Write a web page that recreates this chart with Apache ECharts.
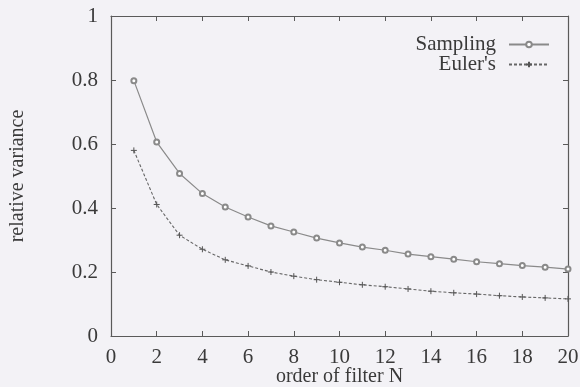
<!DOCTYPE html>
<html>
<head>
<meta charset="utf-8">
<script src="https://cdn.jsdelivr.net/npm/echarts@6/dist/echarts.min.js"></script>
<style>html,body{margin:0;padding:0;background:#f3f2f6;}#c{width:580px;height:387px;}</style>
</head>
<body>
<div id="c"></div>
<script>
const orderN = [1,2,3,4,5,6,7,8,9,10,11,12,13,14,15,16,17,18,19,20];
const sampling = [0.798,0.606,0.508,0.445,0.403,0.372,0.344,0.325,0.306,0.291,0.278,0.268,0.256,0.248,0.240,0.232,0.226,0.220,0.215,0.209];
const eulers = [0.580,0.411,0.315,0.271,0.238,0.219,0.200,0.187,0.176,0.168,0.160,0.154,0.147,0.140,0.135,0.131,0.126,0.122,0.119,0.116];
const xTicks = [0,2,4,6,8,10,12,14,16,18,20];
const yTicks = [0,0.2,0.4,0.6,0.8,1];
const seriesNames = ['Sampling', "Euler's"];

const font = 'Liberation Serif';
const textColor = '#3a3a3a';
const axisColor = '#5a5a5a';
const tickFmt = v => { const r = Math.round(v*10)/10; return String(r); };

function boxAxis(pos, show, extra) {
  return Object.assign({
    type: 'value', position: pos,
    axisLine: {show: true, onZero: false, lineStyle: {color: axisColor, width: 1.2}},
    axisTick: {show: true, inside: true, length: 5, lineStyle: {color: axisColor}},
    splitLine: {show: false},
    axisLabel: {show: show, fontFamily: font, fontSize: 21, color: textColor, formatter: tickFmt}
  }, extra);
}

const chart = echarts.init(document.getElementById('c'));
chart.setOption({
  backgroundColor: '#f3f2f6',
  animation: false,
  grid: {left: 111, right: 12, top: 16, bottom: 51, outerBoundsMode: 'none', containLabel: false},
  legend: {
    orient: 'vertical', align: 'right', right: 25, top: 29,
    itemWidth: 40, itemHeight: 7, itemGap: -1,
    textStyle: {fontFamily: font, fontSize: 21, color: textColor, padding: [0, 8, 0, 0]},
    data: seriesNames
  },
  xAxis: [
    boxAxis('bottom', true, {min: xTicks[0], max: xTicks[xTicks.length-1], interval: 2,
      name: 'order of filter N', nameLocation: 'middle', nameGap: 31, nameMoveOverlap: false,
      nameTextStyle: {fontFamily: font, fontSize: 20, color: textColor},
      axisLabel: {show: true, margin: 11, fontFamily: font, fontSize: 21, color: textColor, formatter: tickFmt}}),
    boxAxis('top', false, {min: 0, max: 20, interval: 2})
  ],
  yAxis: [
    boxAxis('left', true, {min: yTicks[0], max: yTicks[yTicks.length-1], interval: 0.2,
      name: 'relative variance', nameLocation: 'middle', nameGap: 83, nameMoveOverlap: false,
      nameTextStyle: {fontFamily: font, fontSize: 20, color: textColor},
      axisLabel: {show: true, margin: 13, fontFamily: font, fontSize: 21, color: textColor, formatter: tickFmt}}),
    boxAxis('right', false, {min: 0, max: 1, interval: 0.2})
  ],
  series: [
    {
      name: seriesNames[0], type: 'line', xAxisIndex: 0, yAxisIndex: 0,
      data: orderN.map((n, i) => [n, sampling[i]]),
      symbol: 'emptyCircle', symbolSize: 5,
      lineStyle: {color: '#8a8a8a', width: 1.2},
      itemStyle: {color: '#8a8a8a', borderColor: '#8a8a8a', borderWidth: 1}
    },
    {
      name: seriesNames[1], type: 'line', xAxisIndex: 0, yAxisIndex: 0,
      data: orderN.map((n, i) => [n, eulers[i]]),
      symbol: 'path://M5,0L5,10M0,5L10,5', symbolSize: 6,
      lineStyle: {color: '#666', width: 1.1, type: [3, 2]},
      itemStyle: {color: '#555', borderColor: '#555', borderWidth: 1}
    }
  ]
});
</script>
</body>
</html>
